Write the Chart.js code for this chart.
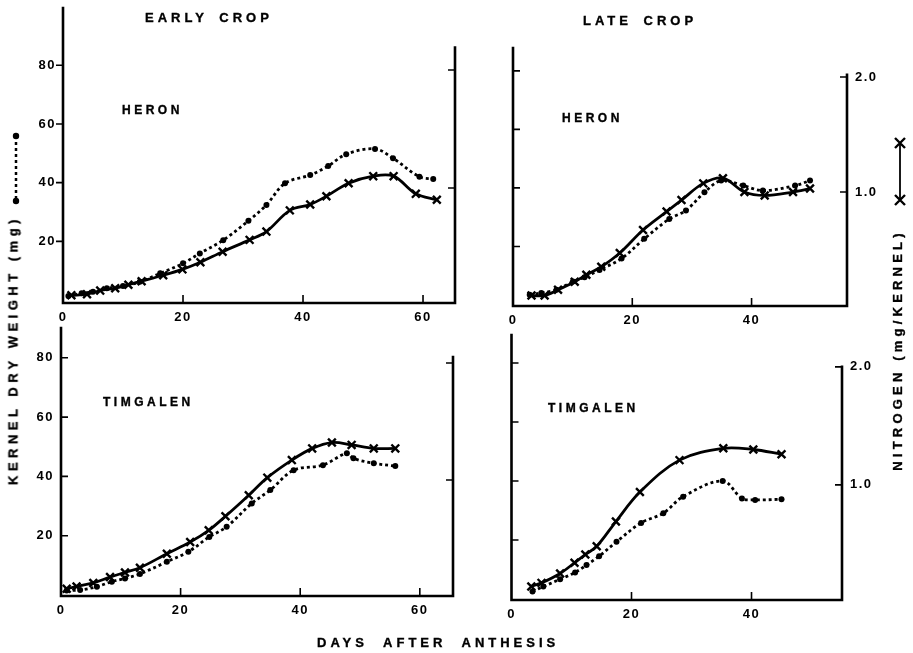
<!DOCTYPE html>
<html>
<head>
<meta charset="utf-8">
<script src="https://cdn.jsdelivr.net/npm/chart.js@4.4.1/dist/chart.umd.min.js"></script>
<style>
  html, body { margin: 0; padding: 0; background: #fff; }
  #fig { position: relative; width: 913px; height: 653px; overflow: hidden;
         font-family: "Liberation Sans", Arial, sans-serif; font-weight: bold; color: #000; }
  #fig canvas { position: absolute; left: 0; top: 0; }
  #fig svg { position: absolute; left: 0; top: 0; }
  .lbl { position: absolute; white-space: nowrap; line-height: 1; -webkit-text-stroke: 0.35px #000; }
  .vert { transform: translate(-50%, -50%) rotate(-90deg); }
</style>
</head>
<body>
<div id="fig">
  <canvas id="early-heron" width="913" height="653"></canvas>
  <canvas id="late-heron" width="913" height="653"></canvas>
  <canvas id="early-timgalen" width="913" height="653"></canvas>
  <canvas id="late-timgalen" width="913" height="653"></canvas>

  <div class="lbl" style="left:145px; top:11px; font-size:13px; letter-spacing:4px; word-spacing:4px">EARLY CROP</div>
  <div class="lbl" style="left:583px; top:14px; font-size:13px; letter-spacing:4px; word-spacing:4px">LATE CROP</div>
  <div class="lbl" style="left:122px; top:104px; font-size:12px; letter-spacing:3.5px">HERON</div>
  <div class="lbl" style="left:562px; top:112px; font-size:12px; letter-spacing:3.5px">HERON</div>
  <div class="lbl" style="left:103px; top:396px; font-size:12px; letter-spacing:3.5px">TIMGALEN</div>
  <div class="lbl" style="left:548px; top:402px; font-size:12px; letter-spacing:3.5px">TIMGALEN</div>
  <div class="lbl" style="left:317px; top:636px; font-size:13px; letter-spacing:4px; word-spacing:8px">DAYS AFTER ANTHESIS</div>
  <div class="lbl vert" style="left:13px; top:350px; font-size:13px; letter-spacing:4.5px">KERNEL DRY WEIGHT (mg)</div>
  <div class="lbl vert" style="left:897px; top:350px; font-size:13px; letter-spacing:4.2px">NITROGEN (mg/KERNEL)</div>

  <!-- key marks beside the two axis titles -->
  <svg width="913" height="653">
    <line x1="16" y1="136" x2="16" y2="201" stroke="#000" stroke-width="2.5" stroke-dasharray="3 3"/>
    <circle cx="16" cy="136" r="3.2" fill="#000"/>
    <circle cx="16" cy="201" r="3.2" fill="#000"/>
    <line x1="900" y1="143" x2="900" y2="200" stroke="#000" stroke-width="1.8"/>
    <path d="M895 138 L905 148 M905 138 L895 148 M895 195 L905 205 M905 195 L895 205" stroke="#000" stroke-width="2.4"/>
  </svg>
</div>

<script>
// tick values
const dayTicks = [0, 20, 40, 60];
const weightTicks = [20, 40, 60, 80];
const nitrogenTicks = [1.0, 2.0];

// EARLY CROP - HERON
const heronEarlyWDays = [0.9, 3.1, 5.0, 7.3, 10.0, 12.8, 16.2, 20.0, 22.8, 26.7, 30.9, 33.9, 37.0, 41.2, 44.2, 47.2, 52.0, 55.0, 59.4, 61.7];
const heronEarlyWeight = [1.4, 2.3, 2.8, 4.0, 4.8, 6.2, 9.1, 12.5, 15.9, 20.4, 27.0, 32.4, 39.8, 42.6, 45.7, 49.7, 51.5, 48.3, 42.0, 41.2];
const heronEarlyNDays = [1.4, 4.0, 6.2, 8.7, 10.9, 13.1, 16.7, 19.9, 22.9, 26.6, 31.1, 33.9, 37.8, 41.2, 43.9, 47.6, 51.7, 55.1, 58.8, 62.3];
const heronEarlyNitrogen = [0.09, 0.10, 0.13, 0.15, 0.18, 0.21, 0.26, 0.31, 0.37, 0.46, 0.56, 0.63, 0.81, 0.86, 0.93, 1.04, 1.10, 1.10, 0.95, 0.90];

// LATE CROP - HERON
const heronLateWDays = [2.8, 4.75, 7.3, 10.05, 12.0, 14.5, 18.2, 22.0, 26.2, 29.0, 32.1, 34.9, 38.6, 41.9, 47.3, 49.8];
const heronLateWeight = [3.5, 4.1, 5.2, 8.0, 9.5, 12.0, 15.9, 22.6, 29.4, 32.3, 38.5, 42.5, 40.8, 39.1, 40.8, 42.5];
const heronLateNDays = [3.1, 5.3, 7.55, 10.35, 12.3, 14.8, 17.9, 21.8, 25.75, 28.25, 31.9, 35.2, 38.8, 42.2, 46.95, 49.8];
const heronLateNitrogen = [0.10, 0.10, 0.15, 0.22, 0.28, 0.35, 0.47, 0.67, 0.83, 0.93, 1.075, 1.12, 1.0, 0.97, 1.0, 1.03];

// EARLY CROP - TIMGALEN
const timgalenEarlyWDays = [0.95, 3.2, 6.0, 8.5, 10.7, 13.2, 17.7, 21.3, 24.8, 27.7, 31.9, 35.0, 38.9, 43.8, 47.8, 48.9, 52.3, 55.9];
const timgalenEarlyWeight = [1.5, 1.7, 2.8, 4.5, 5.6, 7.1, 11.2, 14.6, 19.6, 23.0, 30.9, 35.4, 42.1, 43.8, 47.8, 46.1, 44.4, 43.5];
const timgalenEarlyNDays = [0.95, 2.6, 5.4, 8.2, 10.7, 13.2, 17.7, 21.6, 24.7, 27.5, 31.4, 34.5, 38.6, 42.0, 45.3, 48.6, 52.3, 55.9];
const timgalenEarlyNitrogen = [0.07, 0.09, 0.12, 0.17, 0.21, 0.25, 0.37, 0.47, 0.57, 0.69, 0.87, 1.02, 1.17, 1.27, 1.32, 1.30, 1.27, 1.27];

// LATE CROP - TIMGALEN
const timgalenLateWDays = [3.5, 5.3, 8.1, 10.6, 12.5, 14.6, 17.5, 21.6, 25.3, 28.6, 35.2, 38.4, 40.6, 45.0];
const timgalenLateWeight = [2.5, 4.2, 6.7, 9.0, 11.5, 14.5, 19.4, 25.8, 29.1, 34.7, 40.0, 34.1, 33.6, 33.8];
const timgalenLateNDays = [3.3, 5.0, 8.1, 10.5, 12.3, 14.2, 17.4, 21.4, 28.0, 35.3, 40.3, 45.0];
const timgalenLateNitrogen = [0.14, 0.17, 0.25, 0.34, 0.41, 0.48, 0.69, 0.94, 1.21, 1.31, 1.30, 1.26];

const FONT = { family: '"Liberation Sans", Arial, sans-serif', size: 13, weight: 'bold' };
const PAGE_W = 913, PAGE_H = 653;
const AXIS_W = 40, AXIS_H = 30;

// draws the open frame (tall left axis, bottom axis, short right axis) and the tick marks
const framePlugin = {
  id: 'frame',
  beforeLayout(chart) { chart.ctx.letterSpacing = '1.5px'; },
  beforeDraw(chart) { chart.ctx.letterSpacing = '1.5px'; },
  beforeDatasetsDraw(chart, args, opts) {
    const ctx = chart.ctx;
    const { left, right, bottom } = chart.chartArea;
    const sx = chart.scales.x, sw = chart.scales.yW, sn = chart.scales.yN;
    ctx.save();
    ctx.strokeStyle = '#000';
    ctx.lineWidth = 2.6;
    ctx.lineCap = 'square';
    ctx.beginPath();
    ctx.moveTo(left, sw.getPixelForValue(opts.wTop));
    ctx.lineTo(left, bottom);
    ctx.lineTo(right, bottom);
    ctx.lineTo(right, sn.getPixelForValue(opts.nTop));
    ctx.stroke();
    ctx.lineWidth = 1.6;
    ctx.lineCap = 'butt';
    ctx.beginPath();
    sx.ticks.forEach(t => {
      if (t.value <= 0) return;
      const px = sx.getPixelForValue(t.value);
      ctx.moveTo(px, bottom);
      ctx.lineTo(px, bottom - 8);
    });
    sw.ticks.forEach(t => {
      const py = sw.getPixelForValue(t.value);
      ctx.moveTo(left, py);
      ctx.lineTo(left + 7 * opts.leftDir, py);
    });
    sn.ticks.forEach(t => {
      const py = sn.getPixelForValue(t.value);
      ctx.moveTo(right, py);
      ctx.lineTo(right - 7, py);
    });
    ctx.stroke();
    ctx.restore();
  }
};

function pts(days, vals) {
  return days.map((d, i) => ({ x: d, y: vals[i] }));
}

function makePanel(id, wDays, weight, nDays, nitrogen, f) {
  new Chart(document.getElementById(id), {
    type: 'line',
    data: {
      datasets: [
        {
          label: 'Kernel dry weight',
          data: pts(wDays, weight),
          yAxisID: 'yW',
          borderColor: '#000',
          borderWidth: 2.8,
          borderDash: [3, 3],
          tension: 0.35,
          pointStyle: 'circle',
          pointRadius: 3,
          pointBackgroundColor: '#000',
          pointBorderWidth: 0
        },
        {
          label: 'Nitrogen',
          data: pts(nDays, nitrogen),
          yAxisID: 'yN',
          borderColor: '#000',
          borderWidth: 2.8,
          tension: 0.35,
          pointStyle: 'crossRot',
          pointRadius: 5.5,
          pointBorderColor: '#000',
          pointBorderWidth: 2.4
        }
      ]
    },
    options: {
      responsive: false,
      animation: false,
      events: [],
      layout: {
        padding: {
          left: f.l - AXIS_W,
          right: PAGE_W - f.r - AXIS_W,
          top: f.t,
          bottom: PAGE_H - f.b - AXIS_H
        }
      },
      plugins: {
        legend: { display: false },
        tooltip: { enabled: false },
        frame: { nTop: f.nTop, wTop: f.wTop, leftDir: f.leftDir }
      },
      scales: {
        x: {
          type: 'linear',
          min: 0,
          max: f.xMax,
          grid: { display: false, drawTicks: false },
          border: { display: false },
          ticks: { color: '#000', font: FONT, padding: 7 },
          afterBuildTicks: s => { s.ticks = dayTicks.filter(v => v <= s.max).map(v => ({ value: v })); },
          afterFit: s => { s.height = AXIS_H; }
        },
        yW: {
          type: 'linear',
          position: 'left',
          min: f.wMin,
          max: f.wMax,
          grid: { display: false, drawTicks: false },
          border: { display: false },
          ticks: { display: f.leftLabels, color: '#000', font: FONT, padding: 7 },
          afterBuildTicks: s => { s.ticks = weightTicks.map(v => ({ value: v })); },
          afterFit: s => { s.width = AXIS_W; }
        },
        yN: {
          type: 'linear',
          position: 'right',
          min: f.nMin,
          max: f.nMax,
          grid: { display: false, drawTicks: false },
          border: { display: false },
          ticks: { display: f.rightLabels, color: '#000', font: FONT, padding: 8, callback: v => v.toFixed(1) },
          afterBuildTicks: s => { s.ticks = nitrogenTicks.map(v => ({ value: v })); },
          afterFit: s => { s.width = AXIS_W; }
        }
      }
    },
    plugins: [framePlugin]
  });
}

makePanel('early-heron', heronEarlyWDays, heronEarlyWeight, heronEarlyNDays, heronEarlyNitrogen,
  { l: 63, r: 455, t: 25, b: 303, xMax: 65.33, wMin: -1.0, wMax: 93.7, nMin: 0.025, nMax: 2.381, nTop: 2.19, wTop: 99.5,
    leftLabels: true, rightLabels: false, leftDir: -1 });

makePanel('late-heron', heronLateWDays, heronLateWeight, heronLateNDays, heronLateNitrogen,
  { l: 513, r: 847, t: 48, b: 306, xMax: 56.0, wMin: -0.34, wMax: 87.8, nMin: 0.009, nMax: 2.252, nTop: 2.02, wTop: 87.8,
    leftLabels: false, rightLabels: true, leftDir: 1 });

makePanel('early-timgalen', timgalenEarlyWDays, timgalenEarlyWeight, timgalenEarlyNDays, timgalenEarlyNitrogen,
  { l: 61, r: 453, t: 328, b: 596, xMax: 65.55, wMin: -0.34, wMax: 90.05, nMin: 0.0085, nMax: 2.299, nTop: 2.05, wTop: 90.05,
    leftLabels: true, rightLabels: false, leftDir: 1 });

makePanel('late-timgalen', timgalenLateWDays, timgalenLateWeight, timgalenLateNDays, timgalenLateNitrogen,
  { l: 511.5, r: 842, t: 335, b: 600, xMax: 55.08, wMin: -0.34, wMax: 89.5, nMin: 0.025, nMax: 2.27, nTop: 2.0, wTop: 89.5,
    leftLabels: false, rightLabels: true, leftDir: 1 });
</script>
</body>
</html>
